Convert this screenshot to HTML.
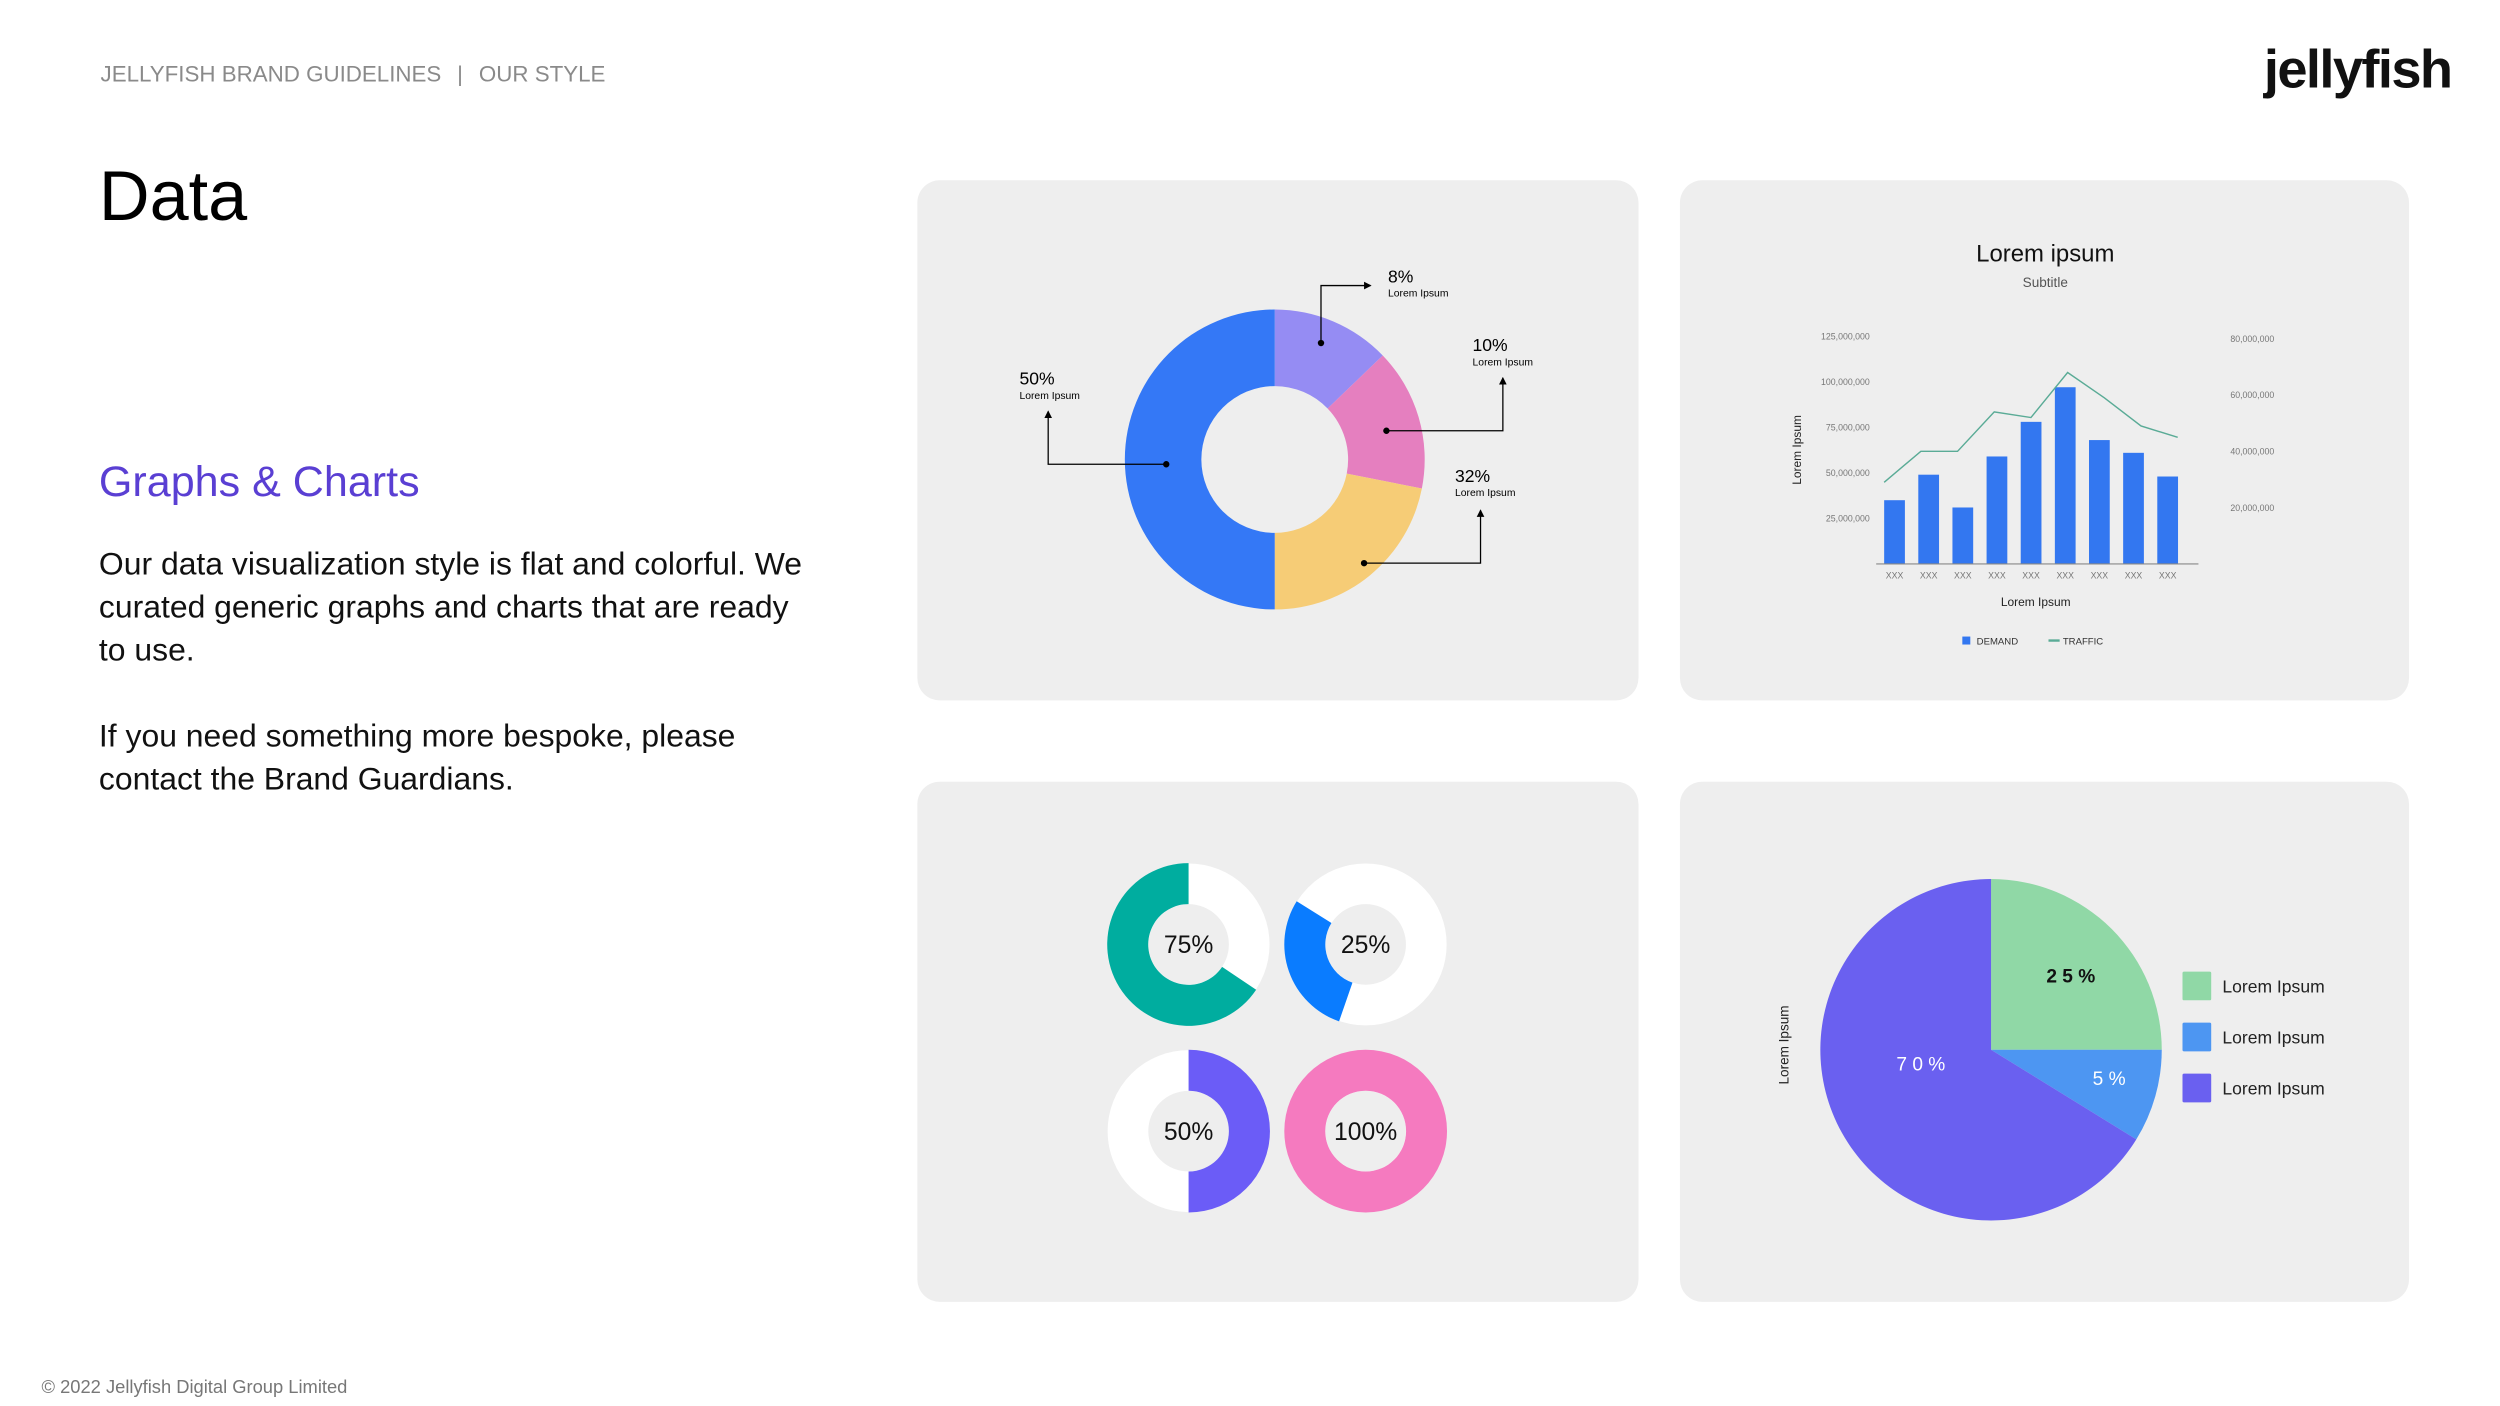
<!DOCTYPE html>
<html><head><meta charset="utf-8"><style>
html,body{margin:0;padding:0;background:#fff;}
svg{display:block;}
text{font-family:"Liberation Sans",sans-serif;}
</style></head><body>
<svg id="s" width="2500" height="1406" viewBox="0 0 1567 881.3" xmlns="http://www.w3.org/2000/svg">
<defs><marker id="arr" markerWidth="6" markerHeight="6" refX="5" refY="3" orient="auto"><path d="M0,0 L6,3 L0,6 z" fill="#000"/></marker></defs>
<rect width="1567" height="881.3" fill="#fff"/>
<text x="63" y="51" font-size="14" fill="#8a8a8a">JELLYFISH BRAND GUIDELINES  <tspan dx="6">|</tspan><tspan dx="10">OUR STYLE</tspan></text>
<text x="1419" y="55" font-size="34" font-weight="bold" fill="#111" letter-spacing="-1">jellyfish</text>
<text x="62" y="138" font-size="44" fill="#000">Data</text>
<text x="62" y="311" font-size="27" fill="#5a3fd3">Graphs &amp; Charts</text>
<g font-size="20" fill="#111">
<text x="62" y="360">Our data visualization style is flat and colorful. We</text>
<text x="62" y="387">curated generic graphs and charts that are ready</text>
<text x="62" y="414">to use.</text>
<text x="62" y="468">If you need something more bespoke, please</text>
<text x="62" y="495">contact the Brand Guardians.</text>
</g>
<text x="26" y="873" font-size="11.5" fill="#777">© 2022 Jellyfish Digital Group Limited</text>

<rect x="575" y="113" width="452" height="326" rx="14" fill="#eeeeee"/>
<rect x="1053" y="113" width="457" height="326" rx="14" fill="#eeeeee"/>
<rect x="575" y="490" width="452" height="326" rx="14" fill="#eeeeee"/>
<rect x="1053" y="490" width="457" height="326" rx="14" fill="#eeeeee"/>

<g id="donut1"></g>
<g id="donut1ann" stroke="#000" stroke-width="0.8" fill="none">
<path d="M828,215 V179 H859" marker-end="url(#arr)"/>
<path d="M869,270 H942 V237" marker-end="url(#arr)"/>
<path d="M855,353 H928 V320" marker-end="url(#arr)"/>
<path d="M731,291 H657 V258" marker-end="url(#arr)"/>
</g>
<g fill="#000">
<circle cx="828" cy="215" r="2"/><circle cx="869" cy="270" r="2"/><circle cx="855" cy="353" r="2"/><circle cx="731" cy="291" r="2"/>
<text x="870" y="177" font-size="11">8%</text>
<text x="870" y="186" font-size="6.5">Lorem Ipsum</text>
<text x="923" y="220" font-size="11">10%</text>
<text x="923" y="229" font-size="6.5">Lorem Ipsum</text>
<text x="912" y="302" font-size="11">32%</text>
<text x="912" y="311" font-size="6.5">Lorem Ipsum</text>
<text x="639" y="241" font-size="11">50%</text>
<text x="639" y="250" font-size="6.5">Lorem Ipsum</text>
</g>

<g id="bar">
<text x="1282" y="164" font-size="15" text-anchor="middle" fill="#111">Lorem ipsum</text>
<text x="1282" y="180" font-size="8.5" text-anchor="middle" fill="#555">Subtitle</text>
<text transform="translate(1129,282) rotate(-90)" font-size="7.5" text-anchor="middle" fill="#222">Lorem Ipsum</text>
<text x="1276" y="380" font-size="7.5" text-anchor="middle" fill="#222">Lorem Ipsum</text>
<rect x="1230" y="399" width="5" height="5" fill="#3377f0"/>
<text x="1239" y="404" font-size="6" fill="#333">DEMAND</text>
<line x1="1284" y1="401.5" x2="1291" y2="401.5" stroke="#5aab96" stroke-width="1.5"/>
<text x="1293" y="404" font-size="6" fill="#333">TRAFFIC</text>
</g>

<g id="small"></g>
<g id="pie">
<text transform="translate(1121,655) rotate(-90)" font-size="8.5" text-anchor="middle" fill="#222">Lorem Ipsum</text>
</g>
</svg>
<script>
// donut chart data (visual proportions)
const donutValues = [12.8, 15.3, 21.9, 50];
const donutColors = ['#958cf3', '#e57fbf', '#f6cc76', '#3478f6'];
// bar chart data
const barCategories = ['XXX','XXX','XXX','XXX','XXX','XXX','XXX','XXX','XXX'];
const demandValues = [35, 49, 31, 59, 78, 97, 68, 61, 48]; // millions
const trafficValues = [29, 40, 40, 54, 52, 68, 59, 49, 45]; // millions
const leftTicks = [25, 50, 75, 100, 125];
const leftTickLabels = ['25,000,000','50,000,000','75,000,000','100,000,000','125,000,000'];
const rightTicks = [20, 40, 60, 80];
const rightTickLabels = ['20,000,000','40,000,000','60,000,000','80,000,000'];
// progress donuts: [start%, end%]
const progressLabels = ['75%','25%','50%','100%'];
const progressStart = [34.4, 55.3, 0, 0];
const progressEnd = [100, 83.9, 50, 100];
const progressColors = ['#00ad9f','#0a7cff','#6b5cf7','#f57abf'];
// pie chart
const pieValues = [25, 8.8, 66.2];
const pieLabels = ['2 5 %','5  %','7 0 %'];
const pieColors = ['#90d8a6','#4d96f2','#6a60f0'];
const pieLegend = ['Lorem Ipsum','Lorem Ipsum','Lorem Ipsum'];

const NS = 'http://www.w3.org/2000/svg';
function mk(tag, attrs, parent){const e=document.createElementNS(NS,tag);for(const k in attrs)e.setAttribute(k,attrs[k]);parent.appendChild(e);return e;}
function pt(cx,cy,r,f){const a=f*2*Math.PI;return [cx+r*Math.sin(a), cy-r*Math.cos(a)];}
function arcPath(cx,cy,ro,ri,f0,f1){
  if(f1-f0>=0.9999){
    return `M${cx},${cy-ro}A${ro},${ro} 0 1 1 ${cx},${cy+ro}A${ro},${ro} 0 1 1 ${cx},${cy-ro}Z M${cx},${cy-ri}A${ri},${ri} 0 1 0 ${cx},${cy+ri}A${ri},${ri} 0 1 0 ${cx},${cy-ri}Z`;
  }
  const L=(f1-f0)>0.5?1:0;const a=pt(cx,cy,ro,f0),b=pt(cx,cy,ro,f1);
  if(ri<=0) return `M${cx},${cy}L${a[0]},${a[1]}A${ro},${ro} 0 ${L} 1 ${b[0]},${b[1]}Z`;
  const c=pt(cx,cy,ri,f1),d=pt(cx,cy,ri,f0);
  return `M${a[0]},${a[1]}A${ro},${ro} 0 ${L} 1 ${b[0]},${b[1]}L${c[0]},${c[1]}A${ri},${ri} 0 ${L} 0 ${d[0]},${d[1]}Z`;
}
// donut
(function(){const g=document.getElementById('donut1');const tot=donutValues.reduce((a,b)=>a+b,0);let acc=0;
donutValues.forEach((v,i)=>{const p=mk('path',{d:arcPath(799,288,94,46,acc/tot,(acc+v)/tot),fill:donutColors[i]},g);


acc+=v;});})();
// bar chart
(function(){const g=document.getElementById('bar');const base=353.5;
const yL=v=>base-v*1.142;const yR=v=>base-v*1.765;
const xBar=i=>1181+i*21.4;const xLine=i=>1181+i*23;
leftTicks.forEach((t,i)=>{const e=mk('text',{x:1172,y:yL(t)+2,'font-size':5.5,'text-anchor':'end',fill:'#777'},g);e.textContent=leftTickLabels[i];

});
rightTicks.forEach((t,i)=>{const e=mk('text',{x:1398,y:yR(t)+2,'font-size':5.5,fill:'#777'},g);e.textContent=rightTickLabels[i];

});
demandValues.forEach((v,i)=>{const r=mk('rect',{x:xBar(i),y:yL(v),width:13,height:base-yL(v),fill:'#3377f0'},g);


const t=mk('text',{x:xBar(i)+6.5,y:base+9,'font-size':5.5,'text-anchor':'middle',fill:'#777'},g);t.textContent=barCategories[i];

});
const ax=mk('line',{x1:1176,y1:base,x2:1378,y2:base,stroke:'#888','stroke-width':0.7},g);


const pl=mk('polyline',{points:trafficValues.map((v,i)=>xLine(i)+','+yR(v)).join(' '),fill:'none',stroke:'#5aab96','stroke-width':0.9},g);

})();
// progress donuts
(function(){const g=document.getElementById('small');const cx=[745,856,745,856],cy=[592,592,709,709];
progressLabels.forEach((l,i)=>{const bg=mk('circle',{cx:cx[i],cy:cy[i],r:38,fill:'none',stroke:'#fff','stroke-width':25.5},g);


const p=mk('path',{d:arcPath(cx[i],cy[i],51,25.3,progressStart[i]/100,progressEnd[i]/100),fill:progressColors[i],'fill-rule':'evenodd'},g);


const t=mk('text',{x:cx[i],y:cy[i]+5.5,'font-size':15.5,'text-anchor':'middle',fill:'#111'},g);t.textContent=l;

});})();
// pie
(function(){const g=document.getElementById('pie');const tot=pieValues.reduce((a,b)=>a+b,0);let acc=0;
const lx=[1298,1322,1204],ly=[616,680,671],lc=['#111','#fff','#fff'];
pieValues.forEach((v,i)=>{const p=mk('path',{d:arcPath(1248,658,107,0,acc/tot,(acc+v)/tot),fill:pieColors[i]},g);

acc+=v;});
pieValues.forEach((v,i)=>{const t=mk('text',{x:lx[i],y:ly[i],'font-size':12,'font-weight':i==0?'bold':'normal','text-anchor':'middle',fill:lc[i]},g);t.textContent=pieLabels[i];


const r=mk('rect',{x:1368,y:609+i*32,width:18,height:18,rx:1,fill:pieColors[i]},g);


const lt=mk('text',{x:1393,y:622+i*32,'font-size':11,fill:'#222','font-family':'DejaVu Sans, sans-serif'},g);lt.textContent=pieLegend[i];

});})();
</script>
</body></html>
